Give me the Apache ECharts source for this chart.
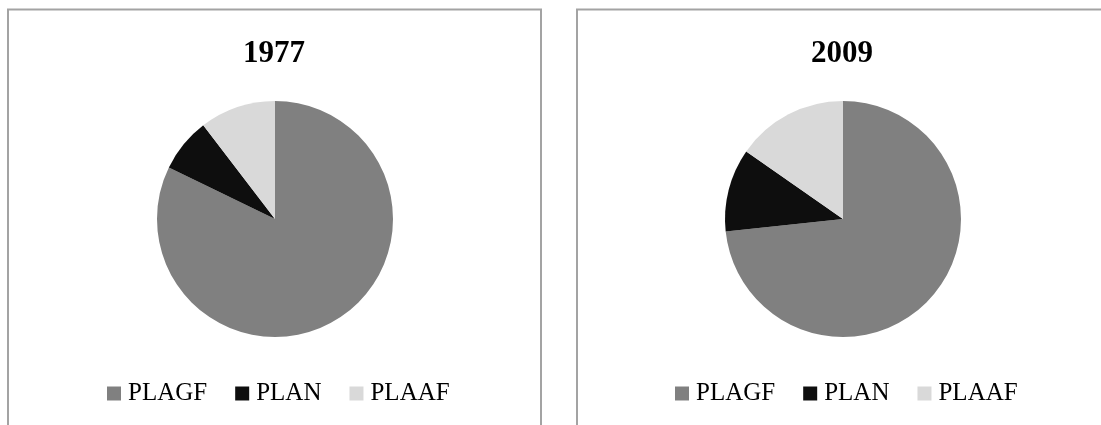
<!DOCTYPE html>
<html>
<head>
<meta charset="utf-8">
<script src="https://cdn.jsdelivr.net/npm/echarts@6/dist/echarts.min.js"></script>
<style>
html,body{margin:0;padding:0;background:#fff;}
#chart{width:1101px;height:425px;}
</style>
</head>
<body>
<div id="chart"></div>
<script>
const categories = ['PLAGF', 'PLAN', 'PLAAF'];
const years = ['1977', '2009'];
const values1977 = [82.2, 7.4, 10.4];
const values2009 = [73.3, 11.4, 15.3];
const colors = ['#808080', '#0e0e0e', '#d9d9d9'];

const serif = '"Liberation Serif", "Times New Roman", serif';
const chart = echarts.init(document.getElementById('chart'));

function pieData(vals) {
  return categories.map((c, i) => ({ name: c, value: vals[i] }));
}

const legendBase = {
  data: categories,
  icon: 'rect',
  itemWidth: 14,
  itemHeight: 14,
  itemGap: 28,
  top: 381,
  padding: 0,
  orient: 'horizontal',
  selectedMode: false,
  textStyle: { fontFamily: serif, fontSize: 25, color: '#000', padding: [0, 0, 0, 2] }
};

const titleStyle = { fontFamily: serif, fontSize: 31, fontWeight: 'bold', color: '#000' };

chart.setOption({
  animation: false,
  color: colors,
  title: [
    { text: years[0], left: 274, top: 38, padding: 0, textAlign: 'center', textStyle: titleStyle },
    { text: years[1], left: 842, top: 38, padding: 0, textAlign: 'center', textStyle: titleStyle }
  ],
  legend: [
    Object.assign({}, legendBase, { left: 107 }),
    Object.assign({}, legendBase, { left: 675 })
  ],
  graphic: [
    { type: 'rect', shape: { x: 8, y: 9.5, width: 533, height: 500 },
      style: { fill: 'none', stroke: '#a3a3a3', lineWidth: 2 }, silent: true },
    { type: 'rect', shape: { x: 577, y: 9.5, width: 600, height: 500 },
      style: { fill: 'none', stroke: '#a3a3a3', lineWidth: 2 }, silent: true }
  ],
  series: [
    { type: 'pie', center: [275, 219], radius: 118, startAngle: 90, clockwise: true,
      label: { show: false }, labelLine: { show: false }, emphasis: { disabled: true },
      itemStyle: { borderWidth: 0 }, data: pieData(values1977) },
    { type: 'pie', center: [843, 219], radius: 118, startAngle: 90, clockwise: true,
      label: { show: false }, labelLine: { show: false }, emphasis: { disabled: true },
      itemStyle: { borderWidth: 0 }, data: pieData(values2009) }
  ]
});
</script>
</body>
</html>
